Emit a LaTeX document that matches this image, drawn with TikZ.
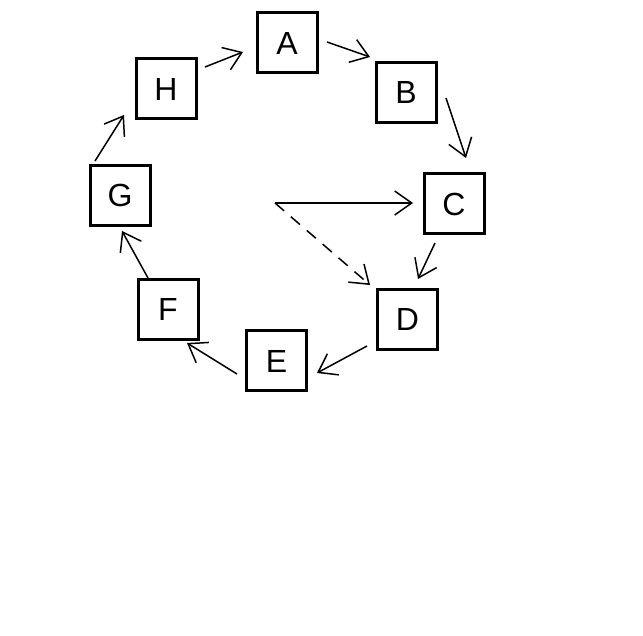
\documentclass[tikz,border=0pt]{standalone}
\usepackage{fontspec}
\setmainfont{Liberation Sans}
\usetikzlibrary{arrows.meta}
\begin{document}
\begin{tikzpicture}[x=1pt,y=-1pt,
  box/.style={draw,line width=3pt,minimum size=60pt,inner sep=0pt,font=\fontsize{32}{32}\selectfont},
  arr/.style={line width=1.5pt,-{Straight Barb[length=17pt,width=24pt,line width=1.5pt]}},
  dsh/.style={arr,dash pattern=on 12pt off 9pt}]
\useasboundingbox (0,0) rectangle (643,636);
\node[box] (A) at (287,43) {A};
\node[box] (B) at (406,92.5) {B};
\node[box] (C) at (454,204) {C};
\node[box] (D) at (407.5,319.5) {D};
\node[box] (E) at (276.5,361) {E};
\node[box] (F) at (168,309.5) {F};
\node[box] (G) at (120,195.5) {G};
\node[box] (H) at (166,89) {H};
\coordinate (O) at (275,203);
\draw[arr] ([shift={(39,-22)}]H.center) -- ([shift={(-44,9)}]A.center);
\draw[arr] ([shift={(40,-1)}]A.center) -- ([shift={(-36,-35.5)}]B.center);
\draw[arr] ([shift={(40,5.5)}]B.center) -- ([shift={(12,-46)}]C.center);
\draw[arr] ([shift={(-19,39)}]C.center) -- ([shift={(10.5,-40.5)}]D.center);
\draw[arr] ([shift={(-40.5,26.5)}]D.center) -- ([shift={(40.5,12)}]E.center);
\draw[arr] ([shift={(-39.5,13)}]E.center) -- ([shift={(19,33.5)}]F.center);
\draw[arr] ([shift={(-20,-31.5)}]F.center) -- ([shift={(2,35.5)}]G.center);
\draw[arr] ([shift={(-25,-34.5)}]G.center) -- ([shift={(-42,26)}]H.center);
\draw[arr] (O) -- ([shift={(-41,-1)}]C.center);
\draw[dsh] (O) -- ([shift={(-37.5,-34.5)}]D.center);
\end{tikzpicture}
\end{document}
